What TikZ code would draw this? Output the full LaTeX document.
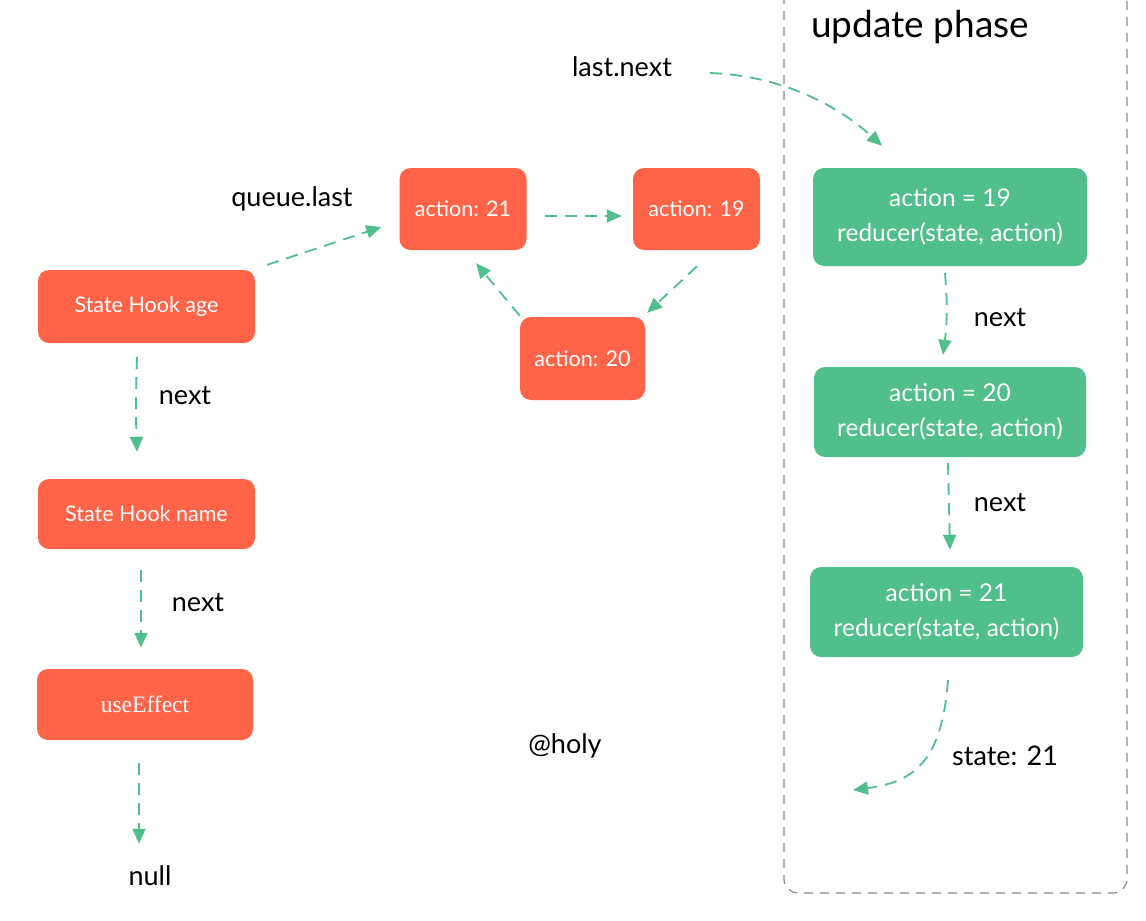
\documentclass[tikz,border=0pt]{standalone}
\usepackage{fontspec}
\setmainfont{Lato}
\newfontfamily\serifbox{Liberation Serif}
\usetikzlibrary{arrows.meta}
\definecolor{hookred}{HTML}{FF6449}
\definecolor{updgreen}{HTML}{50BF8C}
\definecolor{boxgray}{HTML}{8A8A8A}
\tikzset{
  redbox/.style={rectangle, rounded corners=11pt, fill=hookred, text=white, font=\fontsize{21.5}{24}\selectfont, inner sep=0pt, align=center},
  greenbox/.style={rectangle, rounded corners=11pt, fill=updgreen, text=white, font=\fontsize{24.5}{35}\selectfont, inner sep=0pt, align=center, minimum width=274pt},
  lbl/.style={text=black, font=\fontsize{27}{30}\selectfont, inner sep=0pt},
  flow/.style={draw=updgreen, line width=1.8pt, dash pattern=on 12pt off 8pt, -{Triangle[length=15pt,width=13pt]}},
}
\begin{document}
\begin{tikzpicture}[x=1pt,y=-1pt]
\useasboundingbox (0,0) rectangle (1146,921);
\fill[white] (0,0) rectangle (1146,921);
% update phase frame
\draw[boxgray, line width=1.2pt, dash pattern=on 9pt off 7pt, rounded corners=14pt]
  (784,-5) -- (784,893) -- (1127,893) -- (1127,-5);
\node[lbl, font=\fontsize{37}{40}\selectfont] (phase) at (920,27) {update phase};

% hook list
\node[redbox, minimum width=217pt, minimum height=73pt] (age) at (146.5,306.5) {State Hook age};
\node[redbox, minimum width=217pt, minimum height=70pt] (name) at (146.5,514) {State Hook name};
\node[redbox, minimum width=216pt, minimum height=71pt, font=\serifbox\fontsize{23.5}{26}\selectfont] (eff) at (145,704.5) {useEffect};
\node[lbl] (null) at (150,876) {null};

% circular queue
\node[redbox, minimum width=127pt, minimum height=82pt] (a21) at (463,209) {action: 21};
\node[redbox, minimum width=127pt, minimum height=82pt] (a19) at (696.5,209) {action: 19};
\node[redbox, minimum width=125pt, minimum height=83pt] (a20) at (582.5,358.5) {action: 20};

% update boxes
\node[greenbox, minimum height=98pt] (g1) at (950,217) {action = 19\\reducer(state, action)};
\node[greenbox, minimum height=90pt, minimum width=272pt] (g2) at (950,412) {action = 20\\reducer(state, action)};
\node[greenbox, minimum height=90pt, minimum width=273pt] (g3) at (946.5,612) {action = 21\\reducer(state, action)};

% labels
\node[lbl] (ql) at (292,199) {queue.last};
\node[lbl] (ln) at (622,67) {last.next};
\node[lbl] (n1) at (185,396) {next};
\node[lbl] (n2) at (198,603) {next};
\node[lbl] (n3) at (1000,318) {next};
\node[lbl] (n4) at (1000,503) {next};
\node[lbl] (st) at (1005,756) {state: 21};
\node[lbl] (holy) at (565,746) {@holy};
\coordinate (result) at (853,790);

% connectors
\draw[flow] ([shift={(-9.5,14)}]age.south) to[bend right=2] ([shift={(-9.5,-27)}]name.north);
\draw[flow] ([shift={(-5.5,21)}]name.south) -- ([shift={(-4,-21)}]eff.north);
\draw[flow] ([shift={(-6,23)}]eff.south) -- ([shift={(-11,-22)}]null.north);
\draw[flow] ([shift={(12,-5)}]age.north east) -- ([shift={(-18,18)}]a21.west);
\draw[flow] ([shift={(18,7)}]a21.east) -- ([shift={(-11,7)}]a19.west);
\draw[flow] ([shift={(0.5,16)}]a19.south) -- ([shift={(2,-4)}]a20.north east);
\draw[flow] ([shift={(0,-1)}]a20.north west) -- ([shift={(13,13)}]a21.south);
\draw[flow] ([shift={(38,6)}]ln.east) .. controls (790,76) and (845,112) .. ([shift={(-68,-22)}]g1.north);
\draw[flow] ([shift={(-5,7)}]g1.south) to[bend left=6] ([shift={(-7,-12)}]g2.north);
\draw[flow] ([shift={(-2,6)}]g2.south) -- ([shift={(3.5,-17)}]g3.north);
\draw[flow] ([shift={(1.5,23)}]g3.south) .. controls (942,760) and (915,782) .. (result);
\end{tikzpicture}
\end{document}
